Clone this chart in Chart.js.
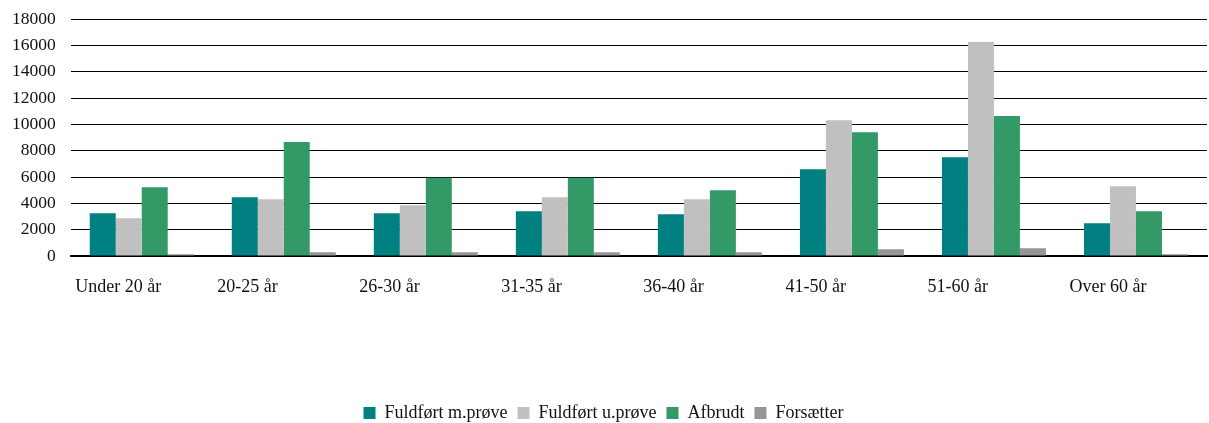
<!DOCTYPE html>
<html>
<head>
<meta charset="utf-8">
<script src="https://cdn.jsdelivr.net/npm/chart.js@4/dist/chart.umd.min.js"></script>
<style>
  html, body { margin: 0; padding: 0; background: #fff; }
  #wrap { width: 1209px; height: 423px; }
</style>
</head>
<body>
<div id="wrap"><canvas id="ageChart"></canvas></div>
<script>
const categories = ['Under 20 år', '20-25 år', '26-30 år', '31-35 år', '36-40 år', '41-50 år', '51-60 år', 'Over 60 år'];
const fuldfoertMed = [3250, 4470, 3250, 3400, 3170, 6600, 7510, 2490];
const fuldfoertUden = [2870, 4320, 3860, 4470, 4320, 10330, 16270, 5310];
const afbrudt = [5230, 8660, 5950, 5950, 5000, 9420, 10640, 3400];
const forsaetter = [130, 280, 280, 280, 280, 510, 580, 130];
const yTicks = [0, 2000, 4000, 6000, 8000, 10000, 12000, 14000, 16000, 18000];

const serif = "'Liberation Serif', 'DejaVu Serif', serif";

const ctx = document.getElementById('ageChart').getContext('2d');
new Chart(ctx, {
    type: 'bar',
    data: {
        labels: categories,
        datasets: [
            { label: 'Fuldført m.prøve', data: fuldfoertMed, backgroundColor: '#008080' },
            { label: 'Fuldført u.prøve', data: fuldfoertUden, backgroundColor: '#c0c0c0' },
            { label: 'Afbrudt', data: afbrudt, backgroundColor: '#339966' },
            { label: 'Forsætter', data: forsaetter, backgroundColor: '#969696' }
        ]
    },
    options: {
        responsive: true,
        maintainAspectRatio: false,
        animation: false,
        datasets: {
            bar: { barPercentage: 1.0, categoryPercentage: 0.732 }
        },
        layout: { padding: { top: 19.3, right: 2, left: 0, bottom: -9 } },
        plugins: {
            tooltip: { enabled: false },
            legend: {
                position: 'bottom',
                labels: {
                    boxWidth: 12,
                    boxHeight: 12,
                    padding: 10,
                    color: '#111',
                    font: { family: serif, size: 18 }
                }
            }
        },
        scales: {
            x: {
                grid: { display: false, drawTicks: false },
                border: { display: true, color: '#000', width: 2 },
                ticks: {
                    color: '#111',
                    font: { family: serif, size: 18 },
                    align: 'start',
                    labelOffset: -66.5,
                    padding: 20,
                    maxRotation: 0,
                    autoSkip: false
                },
                afterFit: function(scale) {
                    scale.height = 138;
                    scale.paddingRight = 0;
                    scale.paddingLeft = 0;
                }
            },
            y: {
                min: 0,
                max: 18000,
                afterBuildTicks: function(scale) {
                    scale.ticks = yTicks.map(v => ({ value: v }));
                },
                grid: { color: '#000', lineWidth: 1, drawTicks: false },
                border: { display: false },
                ticks: {
                    color: '#111',
                    font: { family: serif, size: 17.5 },
                    padding: 15,
                    callback: function(value) { return String(value); }
                },
                afterFit: function(scale) {
                    scale.width = 70.7;
                    scale.paddingTop = 0;
                    scale.paddingBottom = 0;
                }
            }
        }
    }
});
</script>
</body>
</html>
